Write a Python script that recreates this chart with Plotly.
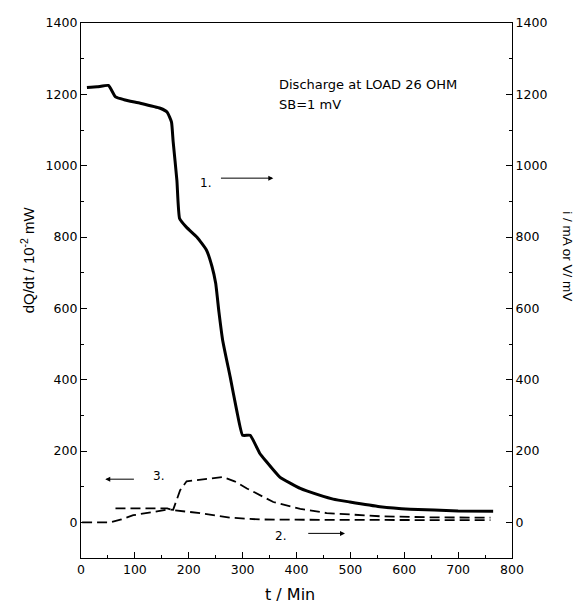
import plotly.graph_objects as go

# Curve 1 (right axis): i / mA  (solid)
t1 = [11, 30, 51, 64, 80, 110, 147, 160, 168, 171, 178, 183, 196, 215, 233, 243, 250, 256, 263, 277, 289, 300, 314, 332, 342, 369, 407, 419, 468, 499, 555, 611, 700, 765]
v1 = [1219, 1221, 1225, 1193, 1185, 1175, 1161, 1150, 1122, 1068, 959, 852, 827, 800, 763, 718, 670, 590, 510, 407, 314, 244, 244, 193, 174, 127, 95, 88, 65, 57, 44, 37, 32, 31]

# Curve 2 (right axis): V / mV (dashed)
t2 = [64, 110, 160, 171, 221, 277, 332, 450, 555, 760]
v2 = [39, 39, 39, 34, 26, 13, 8, 7, 6, 6]

# Curve 3 (left axis): dQ/dt (dashed)
t3 = [2, 54, 75, 97, 130, 160, 171, 184, 196, 230, 264, 285, 308, 357, 407, 456, 555, 650, 760]
v3 = [0, 0, 8, 20, 28, 36, 35, 90, 115, 120, 127, 115, 95, 57, 38, 26, 17, 14, 13]

x_ticks = [0, 100, 200, 300, 400, 500, 600, 700, 800]
y_ticks = [0, 200, 400, 600, 800, 1000, 1200, 1400]

FONT = "Liberation Sans, Arial, sans-serif"
WIDE = "DejaVu Sans, sans-serif"

fig = go.Figure()
fig.add_trace(go.Scatter(x=t3, y=v3, mode="lines", yaxis="y",
                         line=dict(color="black", width=1.8, dash="10px,5px"),
                         showlegend=False))
fig.add_trace(go.Scatter(x=t2, y=v2, mode="lines", yaxis="y2",
                         line=dict(color="black", width=1.8, dash="10px,5px"),
                         showlegend=False))
fig.add_trace(go.Scatter(x=t1, y=v1, mode="lines", yaxis="y2",
                         line=dict(color="black", width=3, shape="spline", smoothing=0.4),
                         showlegend=False))

axis_common = dict(showgrid=False, zeroline=False, showline=True, linecolor="black",
                   linewidth=1.2, ticks="inside", tickcolor="black", ticklen=6,
                   tickfont=dict(family=WIDE, size=12.5, color="black"))

fig.update_layout(
    width=577, height=606,
    margin=dict(l=81, r=65, t=23, b=48),
    paper_bgcolor="white", plot_bgcolor="white",
    font=dict(family=FONT, color="black"),
    xaxis=dict(range=[0, 800], tickvals=x_ticks, mirror=True,
               minor=dict(dtick=50, ticks="inside", ticklen=3, tickcolor="black"),
               **axis_common),
    yaxis=dict(range=[-100, 1400], tickvals=y_ticks,
               minor=dict(dtick=100, ticks="inside", ticklen=3, tickcolor="black"),
               **axis_common),
    yaxis2=dict(range=[-100, 1400], tickvals=y_ticks, overlaying="y", side="right",
                minor=dict(dtick=100, ticks="inside", ticklen=3, tickcolor="black"),
                **axis_common),
)

fig.update_layout(annotations=[
    # axis titles
    dict(x=0.485, y=-0.069, xref="paper", yref="paper", text="t / Min", showarrow=False,
         xanchor="center", yanchor="middle", font=dict(family=WIDE, size=16, color="black")),
    dict(x=-0.125, y=735, xref="paper", yref="y", text="dQ/dt / 10<sup>-2</sup> mW", showarrow=False,
         textangle=-90, xanchor="center", yanchor="middle", font=dict(family=FONT, size=15, color="black")),
    dict(x=1.130, y=746, xref="paper", yref="y", text="i / mA or V/ mV", showarrow=False,
         textangle=90, xanchor="center", yanchor="middle", font=dict(family=FONT, size=13.5, color="black")),
    # in-plot text
    dict(x=364, y=1228, xref="x", yref="y", text="Discharge at LOAD 26 OHM", showarrow=False,
         xanchor="left", yanchor="middle", font=dict(family=WIDE, size=13, color="black")),
    dict(x=364, y=1172, xref="x", yref="y", text="SB=1 mV", showarrow=False,
         xanchor="left", yanchor="middle", font=dict(family=WIDE, size=13, color="black")),
    dict(x=231, y=951, xref="x", yref="y", text="1.", showarrow=False,
         font=dict(family=WIDE, size=12, color="black")),
    dict(x=357, y=965, ax=257, ay=965, xref="x", yref="y", axref="x", ayref="y", text="",
         showarrow=True, arrowhead=2, arrowsize=1, arrowwidth=1, arrowcolor="black"),
    dict(x=143, y=129, xref="x", yref="y", text="3.", showarrow=False,
         font=dict(family=WIDE, size=12, color="black")),
    dict(x=45, y=121, ax=101, ay=121, xref="x", yref="y", axref="x", ayref="y", text="",
         showarrow=True, arrowhead=2, arrowsize=1, arrowwidth=1, arrowcolor="black"),
    dict(x=370, y=-39, xref="x", yref="y", text="2.", showarrow=False,
         font=dict(family=WIDE, size=12, color="black")),
    dict(x=490, y=-31, ax=419, ay=-31, xref="x", yref="y", axref="x", ayref="y", text="",
         showarrow=True, arrowhead=2, arrowsize=1, arrowwidth=1, arrowcolor="black"),
])

fig.write_html("out.html")
